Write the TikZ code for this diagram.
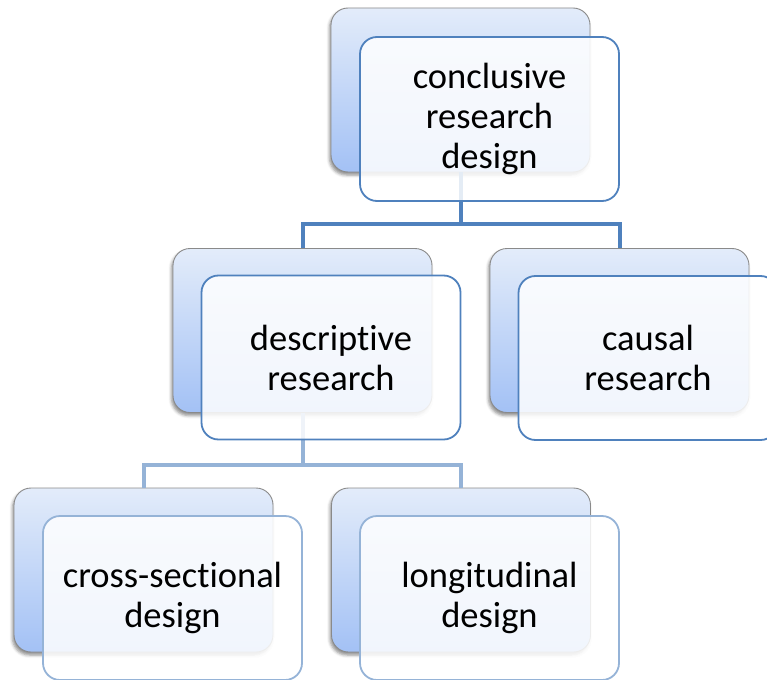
\documentclass[tikz,border=0pt]{standalone}
\usepackage{fontspec}
\setmainfont{Carlito}[RawFeature={-liga;-clig;-dlig;-calt}]
\usetikzlibrary{shadows.blur}
\definecolor{accent}{HTML}{4F81BD}
\definecolor{accentlight}{HTML}{95B3D7}
\definecolor{backtop}{HTML}{E3ECFA}
\definecolor{backbot}{HTML}{A3C1F5}
\definecolor{backedge}{HTML}{8A8A8A}

\begin{document}
\begin{tikzpicture}[x=1pt,y=-1pt,
  backbox/.style={rectangle, rounded corners=17pt, minimum width=259pt,
    minimum height=164pt, inner sep=0pt, draw=backedge, line width=0.9pt,
    top color=backtop, bottom color=backbot,
    blur shadow={shadow xshift=-1.5pt, shadow yshift=-3pt,
      shadow blur radius=3pt, shadow opacity=45}},
  frontbox/.style={rectangle, rounded corners=17pt, minimum width=259pt,
    minimum height=164pt, inner sep=0pt, draw=accent, line width=1.8pt,
    fill=white, fill opacity=0.85, text opacity=1, align=center,
    font=\fontsize{36.5}{40}\selectfont},
  frontlight/.style={frontbox, draw=accentlight},
  link/.style={draw=accent, line width=4pt},
  linklight/.style={draw=accentlight, line width=4pt}]

\clip (0,0) rectangle (767,679);

% back panels
\node[backbox] (cB) at (460.5,90) {};
\node[backbox] (dB) at (302.5,330.5) {};
\node[backbox] (kB) at (619.5,330.5) {};
\node[backbox] (xB) at (143.5,570) {};
\node[backbox] (lB) at (461,570) {};

% junctions of the tree
\coordinate (j1) at (460.5,224);
\coordinate (j2) at (302.5,465);

% connectors between the back panels
\draw[link] (cB.south) -- (j1) -| (dB.north);
\draw[link] (j1) -| (kB.north);
\draw[linklight] (dB.south) -- (j2) -| (xB.north);
\draw[linklight] (j2) -| (lB.north);

% front panels with the labels
\node[frontbox] (c) at (489.5,119) {conclusive\\research\\design};
\node[frontbox] (d) at (331,357.5) {descriptive\\research};
\node[frontbox] (k) at (648,358) {causal\\research};
\node[frontlight] (x) at (172.5,598) {cross-sectional\\design};
\node[frontlight] (l) at (489.5,598) {longitudinal\\design};
\end{tikzpicture}
\end{document}
